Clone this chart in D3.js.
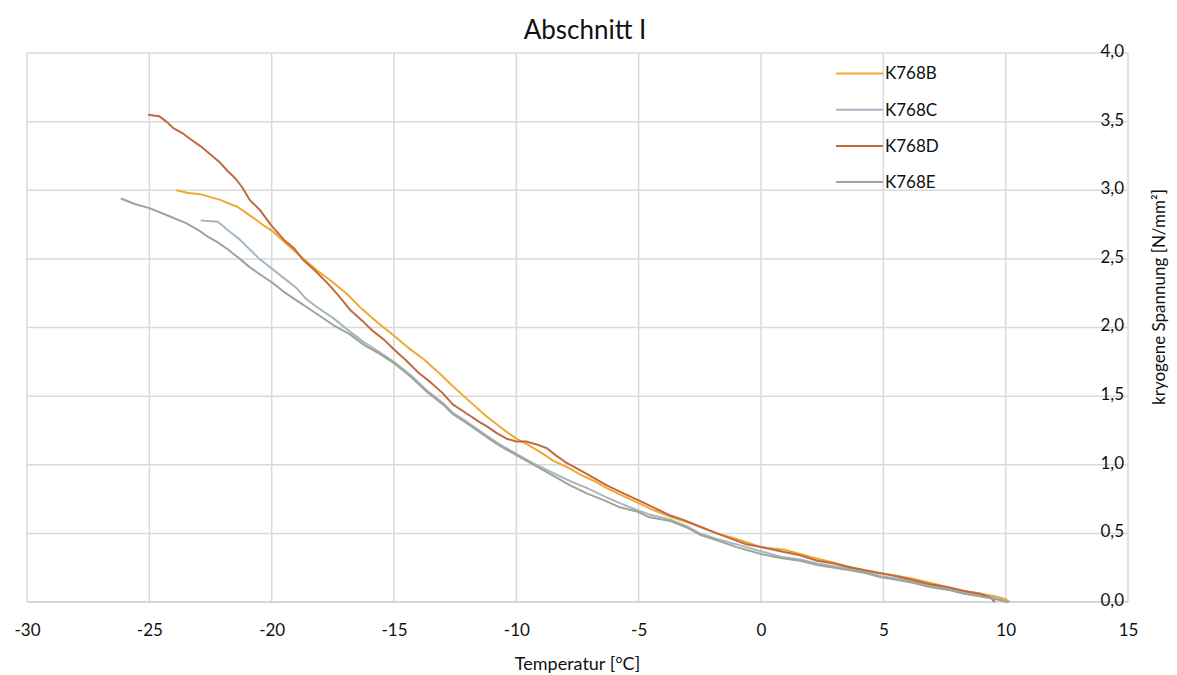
<!DOCTYPE html>
<html>
<head>
<meta charset="utf-8">
<script src="https://cdn.jsdelivr.net/npm/d3@7"></script>
<style>
  body { margin: 0; background: #fff; }
  svg text { font-family: Lato, "Open Sans", sans-serif; fill: #111; }
</style>
</head>
<body>
<script>
// Données : [température, contrainte]
const seriesNames = ['K768B', 'K768C', 'K768D', 'K768E'];

const k768B = [
  [-23.9, 3.00], [-23.4, 2.98], [-22.9, 2.97], [-22.5, 2.95], [-22.1, 2.93], [-21.7, 2.90],
  [-21.4, 2.88], [-21.0, 2.83], [-20.6, 2.78], [-20.3, 2.74], [-19.95, 2.70], [-19.4, 2.61],
  [-18.7, 2.50], [-18.1, 2.41], [-17.5, 2.33], [-16.9, 2.24], [-16.4, 2.15], [-15.7, 2.04],
  [-15.0, 1.94], [-14.4, 1.85], [-13.8, 1.77], [-13.1, 1.66], [-12.7, 1.59], [-11.9, 1.46],
  [-11.2, 1.35], [-10.55, 1.26], [-10.0, 1.19], [-9.57, 1.15], [-9.0, 1.09], [-8.5, 1.03],
  [-7.9, 0.98], [-7.4, 0.93], [-6.8, 0.88], [-6.3, 0.83], [-5.6, 0.77], [-5.0, 0.72],
  [-4.4, 0.67], [-3.7, 0.62], [-3.0, 0.58], [-2.4, 0.54], [-1.8, 0.50], [-1.2, 0.47],
  [-0.5, 0.43], [0, 0.40], [0.5, 0.39], [1.0, 0.38], [1.6, 0.35], [2.2, 0.32], [2.9, 0.29],
  [3.5, 0.26], [4.3, 0.23], [4.9, 0.21], [5.6, 0.19], [6.2, 0.17], [6.9, 0.14], [7.6, 0.11],
  [8.3, 0.08], [9.0, 0.06], [9.6, 0.04], [10.0, 0.02], [10.17, 0.0]
];

const k768C = [
  [-22.9, 2.78], [-22.2, 2.77], [-21.8, 2.71], [-21.3, 2.64], [-20.9, 2.57], [-20.5, 2.50],
  [-20.0, 2.43], [-19.5, 2.36], [-19.0, 2.29], [-18.6, 2.21], [-18.16, 2.15], [-17.5, 2.07],
  [-16.8, 1.97], [-16.2, 1.89], [-15.6, 1.82], [-15.0, 1.75], [-14.3, 1.65], [-13.65, 1.54],
  [-13.0, 1.45], [-12.6, 1.38], [-12.0, 1.31], [-11.2, 1.21], [-10.6, 1.14], [-10.0, 1.08],
  [-9.3, 1.01], [-8.5, 0.94], [-7.8, 0.88], [-7.1, 0.83], [-6.4, 0.77], [-5.77, 0.72],
  [-5.07, 0.67], [-4.6, 0.64], [-3.7, 0.60], [-3.0, 0.55], [-2.5, 0.50], [-1.8, 0.46],
  [-1.0, 0.42], [0, 0.37], [0.8, 0.33], [1.6, 0.31], [2.3, 0.28], [3.0, 0.26], [3.7, 0.24],
  [4.3, 0.22], [4.9, 0.19], [5.6, 0.17], [6.2, 0.15], [6.9, 0.12], [7.6, 0.10], [8.3, 0.07],
  [9.0, 0.05], [9.6, 0.03], [10.1, 0.0]
];

const k768D = [
  [-25.05, 3.55], [-24.6, 3.54], [-24.3, 3.50], [-24.0, 3.45], [-23.6, 3.41], [-23.3, 3.37],
  [-22.9, 3.32], [-22.5, 3.26], [-22.1, 3.20], [-21.8, 3.14], [-21.5, 3.09], [-21.2, 3.02],
  [-20.9, 2.93], [-20.5, 2.86], [-20.0, 2.74], [-19.5, 2.64], [-19.1, 2.58], [-18.7, 2.49],
  [-18.2, 2.41], [-17.7, 2.32], [-17.3, 2.24], [-16.8, 2.13], [-16.3, 2.05], [-15.9, 1.98],
  [-15.4, 1.91], [-15.0, 1.84], [-14.5, 1.76], [-14.0, 1.67], [-13.5, 1.60], [-13.0, 1.52],
  [-12.6, 1.44], [-12.0, 1.37], [-11.5, 1.31], [-11.2, 1.28], [-10.8, 1.23], [-10.4, 1.19],
  [-10.0, 1.17], [-9.6, 1.17], [-9.2, 1.15], [-8.75, 1.12], [-8.4, 1.07], [-8.0, 1.02],
  [-7.4, 0.96], [-6.8, 0.90], [-6.3, 0.85], [-5.6, 0.79], [-5.0, 0.74], [-4.4, 0.69],
  [-3.7, 0.63], [-3.2, 0.60], [-2.5, 0.55], [-1.8, 0.50], [-1.2, 0.46], [-0.6, 0.42],
  [0, 0.40], [0.8, 0.37], [1.6, 0.34], [2.3, 0.30], [3.0, 0.28], [3.7, 0.25], [4.3, 0.23],
  [4.9, 0.21], [5.5, 0.19], [6.2, 0.16], [6.9, 0.13], [7.6, 0.11], [8.3, 0.08], [8.95, 0.06],
  [9.4, 0.03], [9.55, 0.0]
];

const k768E = [
  [-26.16, 2.94], [-25.6, 2.90], [-25.0, 2.87], [-24.3, 2.82], [-23.5, 2.76], [-23.0, 2.71],
  [-22.6, 2.66], [-22.2, 2.62], [-21.8, 2.57], [-21.3, 2.50], [-20.9, 2.44], [-20.5, 2.39],
  [-20.0, 2.33], [-19.5, 2.26], [-19.0, 2.20], [-18.16, 2.10], [-17.5, 2.02], [-16.8, 1.95],
  [-16.2, 1.87], [-15.6, 1.81], [-15.0, 1.74], [-14.3, 1.64], [-13.65, 1.53], [-13.0, 1.44],
  [-12.6, 1.37], [-12.0, 1.30], [-11.2, 1.20], [-10.6, 1.13], [-10.0, 1.07], [-9.3, 1.00],
  [-8.5, 0.92], [-7.8, 0.85], [-7.1, 0.79], [-6.4, 0.74], [-5.77, 0.69], [-5.07, 0.66],
  [-4.6, 0.62], [-3.7, 0.59], [-3.0, 0.54], [-2.5, 0.49], [-1.8, 0.45], [-1.0, 0.40],
  [0, 0.35], [0.8, 0.32], [1.6, 0.30], [2.3, 0.27], [3.0, 0.25], [3.7, 0.23], [4.3, 0.21],
  [4.9, 0.18], [5.6, 0.16], [6.2, 0.14], [6.9, 0.11], [7.6, 0.09], [8.3, 0.06], [9.0, 0.04],
  [9.6, 0.02], [10.1, 0.0]
];

const xTicks = [-30, -25, -20, -15, -10, -5, 0, 5, 10, 15];
const yTicks = [0, 0.5, 1, 1.5, 2, 2.5, 3, 3.5, 4];

const seriesColors = ['#efa834', '#a7b6c4', '#c06a40', '#9ea594'];
const allSeries = [k768B, k768C, k768D, k768E];

// Dimensions
const W = 1177, H = 675;
const margin = { top: 53, right: 49, bottom: 73, left: 27 };
const width = W - margin.left - margin.right,
    height = H - margin.top - margin.bottom;

const svg = d3.select('body')
    .append('svg')
    .attr('width', W)
    .attr('height', H);

const g = svg.append('g')
    .attr('transform', `translate(${margin.left}, ${margin.top})`);

const x = d3.scaleLinear().domain([-30, 15]).range([0, width]);
const y = d3.scaleLinear().domain([0, 4]).range([height, 0]);

// Grille
g.append('g')
    .selectAll('line')
    .data(xTicks)
    .join('line')
    .attr('x1', d => x(d)).attr('x2', d => x(d))
    .attr('y1', 0).attr('y2', height)
    .attr('stroke', '#d9d9d9')
    .attr('stroke-width', 1.5);

g.append('g')
    .selectAll('line')
    .data(yTicks)
    .join('line')
    .attr('x1', 0).attr('x2', width)
    .attr('y1', d => y(d)).attr('y2', d => y(d))
    .attr('stroke', d => d === 0 ? '#c8c8c8' : '#d9d9d9')
    .attr('stroke-width', 1.5);

// Axe X (tiret simple comme dans l'original)
const xAxis = g.append('g')
    .attr('transform', `translate(0, ${height})`)
    .call(d3.axisBottom(x).tickValues(xTicks).tickSize(0).tickPadding(22).tickFormat(d => String(d)));
xAxis.select('.domain').remove();
xAxis.selectAll('text').style('font-size', '17px');

// Axe Y (étiquettes à l'intérieur, à droite)
const yAxis = g.append('g')
    .attr('transform', `translate(${width - 4}, 0)`)
    .call(d3.axisLeft(y).tickValues(yTicks).tickSize(0).tickPadding(0)
        .tickFormat(d => d3.format('.1f')(d).replace('.', ',')));
yAxis.select('.domain').remove();
yAxis.selectAll('text').style('font-size', '17px').attr('dy', '0.2em');

// Courbes
const line = d3.line()
    .x(d => x(d[0]))
    .y(d => y(d[1]));

g.append('g')
    .selectAll('path')
    .data(allSeries)
    .join('path')
    .attr('d', line)
    .attr('fill', 'none')
    .attr('stroke', (d, i) => seriesColors[i])
    .attr('stroke-width', 2)
    .attr('stroke-linejoin', 'round');

// Légende
const legend = svg.append('g')
    .selectAll('g')
    .data(seriesNames)
    .join('g')
    .attr('transform', (d, i) => `translate(836, ${73.5 + i * 36.2})`);

legend.append('line')
    .attr('x1', 0).attr('x2', 47)
    .attr('stroke', (d, i) => seriesColors[i])
    .attr('stroke-width', 2);

legend.append('text')
    .attr('x', 49)
    .attr('dy', '0.35em')
    .style('font-size', '17px')
    .text(d => d);

// Titres
svg.append('text')
    .attr('x', 585)
    .attr('y', 39)
    .attr('text-anchor', 'middle')
    .style('font-size', '26px')
    .text('Abschnitt I');

svg.append('text')
    .attr('x', margin.left + width / 2)
    .attr('y', 670)
    .attr('text-anchor', 'middle')
    .style('font-size', '18px')
    .text('Temperatur [°C]');

svg.append('text')
    .attr('transform', 'translate(1165, 297) rotate(-90)')
    .attr('text-anchor', 'middle')
    .style('font-size', '17px')
    .text('kryogene Spannung [N/mm²]');
</script>
</body>
</html>
